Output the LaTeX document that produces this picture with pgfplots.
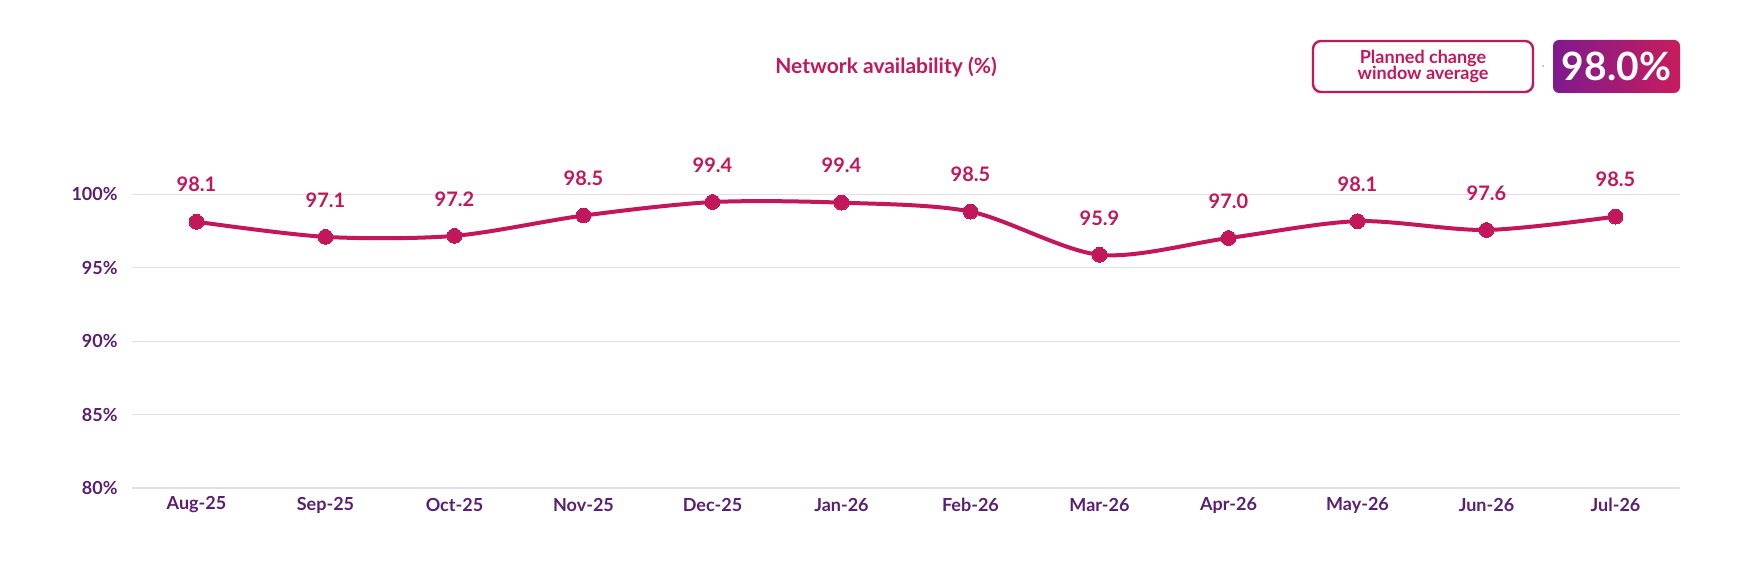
\documentclass[border=0pt]{standalone}
\usepackage{pgfplots}
\pgfplotsset{compat=1.18}
\usepackage{pgfplotstable}
\usepackage{fontspec}
\setmainfont{Lato}
\usetikzlibrary{shadings}

\definecolor{crimson}{RGB}{194,24,91}
\definecolor{tickpurple}{RGB}{90,31,115}
\definecolor{gridlav}{RGB}{230,220,236}
\definecolor{gradleft}{RGB}{126,26,142}
\definecolor{gradright}{RGB}{200,28,92}

% plotted value, label shown above the point
\pgfplotstableread{
i  y      lab
0  98.13  98.1
1  97.10  97.1
2  97.17  97.2
3  98.55  98.5
4  99.47  99.4
5  99.43  99.4
6  98.82  98.5
7  95.88  95.9
8  97.02  97.0
9  98.17  98.1
10 97.57  97.6
11 98.48  98.5
}\availtable

\begin{document}
\begin{tikzpicture}
\useasboundingbox (0,0) rectangle (880pt,283pt);

\begin{axis}[
  at={(66pt,39pt)}, anchor=south west,
  scale only axis,
  width=774pt, height=146.85pt,
  xmin=-0.5, xmax=11.5,
  ymin=80, ymax=100,
  ytick={80,85,90,95,100},
  yticklabel={\pgfmathprintnumber{\tick}\%},
  xtick={0,...,11},
  xticklabels={Aug-25,Sep-25,Oct-25,Nov-25,Dec-25,Jan-26,Feb-26,Mar-26,Apr-26,May-26,Jun-26,Jul-26},
  /pgf/number format/assume math mode=true,
  axis line style={draw=none},
  major tick length=0pt,
  ymajorgrids,
  grid style={gridlav, line width=0.6pt},
  tick label style={font=\fontsize{9}{10}\selectfont\bfseries, text=tickpurple, inner sep=0pt},
  xticklabel style={anchor=center, yshift=-8.5pt},
  yticklabel style={anchor=east, xshift=-7pt},
  clip=false,
]
\addplot[
  crimson, line width=2pt, smooth, tension=0.5,
  mark=*, mark size=3.7pt, mark options={fill=crimson, draw=crimson, line width=0pt},
  point meta=explicit symbolic,
  nodes near coords,
  every node near coord/.append style={anchor=center, yshift=18.5pt,
    font=\fontsize{10}{12}\selectfont\bfseries, text=crimson},
] table[x=i, y=y, meta=lab] {\availtable};
\end{axis}

% title
\node[font=\fontsize{10.5}{12}\selectfont\bfseries, text=crimson] at (443pt,249.5pt) {Network availability (\%)};

% planned change box
\draw[crimson, line width=1.2pt, rounded corners=4pt] (656.5pt,237pt) rectangle (766.5pt,262.5pt);
\node[font=\fontsize{9}{8.4}\selectfont\bfseries, text=crimson, align=center] at (711.5pt,249.75pt) {Planned change\\window average};

\fill[gray!70] (771.5pt,250pt) circle (0.5pt);

% average badge
\shade[left color=gradleft, right color=gradright, rounded corners=3pt] (776.5pt,236.5pt) rectangle (840pt,263pt);
\node[font=\fontsize{19.5}{22}\selectfont\bfseries, text=white] at (808.25pt,249.75pt) {98.0\%};

\end{tikzpicture}
\end{document}
